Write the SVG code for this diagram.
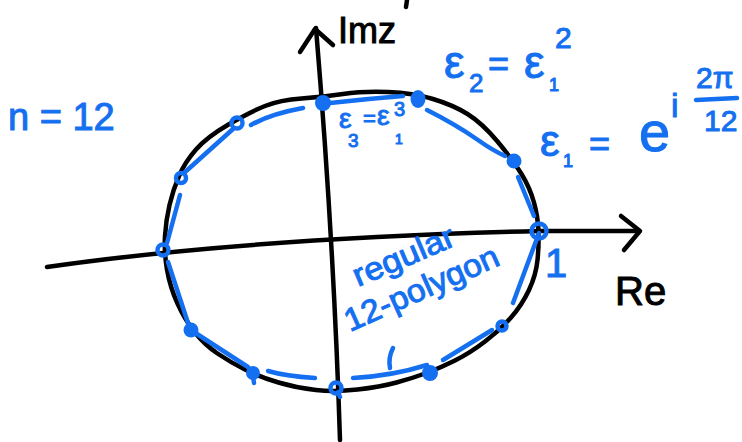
<svg xmlns="http://www.w3.org/2000/svg" width="742" height="442" viewBox="0 0 742 442">
<style>
.ink{fill:none;stroke:#000;stroke-width:4.5;stroke-linecap:round;stroke-linejoin:round}
.edge{fill:none;stroke:#1470f0;stroke-width:4.5;stroke-linecap:round;stroke-linejoin:round}
.dot{fill:#1470f0}
.ring{fill:none;stroke:#1470f0;stroke-width:4.5}
.bt{fill:#1470f0;font-family:"Liberation Sans",Arial,sans-serif;stroke:#1470f0;stroke-width:1}
.kt{fill:#000;font-family:"Liberation Sans",Arial,sans-serif;stroke:#000;stroke-width:1}
</style>
<rect width="742" height="442" fill="#fff"/>
<g id="axes">
  <path class="ink" d="M47,267 Q250,238 540,231 L639,231"/>
  <path class="ink" d="M621,216 L640,231 L624,250"/>
  <path class="ink" d="M316,28 C322,100 334,250 340,440"/>
  <path class="ink" d="M300,52 L315,29 L333,45"/>
  <path class="ink" d="M407,0 L406,7"/>
</g>
<g id="unit-circle">
  <path class="ink" d="M228.5,124.5 Q250,112 265,106 Q280,100 301.5,98.5 Q323,97 343,94 Q363,91 388,92 Q413,93 433,99 Q453,105 467.5,114 Q482,123 497.5,141.5 Q513,160 521.5,174 Q530,188 534,202.5 Q538,217 538.5,231 Q539,245 537.5,260 Q536,275 529,290 Q522,305 511,317.5 Q500,330 485,341.5 Q470,353 455,360.5 Q440,368 426.5,373 Q413,378 396.5,382.5 Q380,387 357.5,389.5 Q335,392 316,390 Q297,388 278.5,382.5 Q260,377 245,369.5 Q230,362 217.5,353.5 Q205,345 195,332.5 Q185,320 177.5,303.5 Q170,287 167,269.5 Q164,252 165,236 Q166,220 169.5,205 Q173,190 179,176 Q185,162 196,149.5 Q207,137 228.5,124.5 Z"/>
</g>
<g id="connectors">
  <path class="edge" d="M518,177 L534,216"/>
  <path class="edge" d="M427,110 Q455,124 478,140 Q492,150 505,156"/>
  <path class="edge" d="M330,103 Q365,99 403,96"/>
  <path class="edge" d="M251,125 Q270,114 303,108"/>
  <path class="edge" d="M233,129 L184,173"/>
  <path class="edge" d="M180,195 L167,243"/>
  <path class="edge" d="M168,262 L188,323"/>
  <path class="edge" d="M197,334 L248,367"/>
  <path class="edge" d="M268,371 Q285,376 315,378"/>
  <path class="edge" d="M353,378 Q392,376 427,365"/>
  <path class="edge" d="M443,360 L492,330"/>
  <path class="edge" d="M513,303 L539,233"/>
  <path class="edge" d="M393,348 Q388,358 390,368"/>
</g>
<g id="v1"><circle class="ring" cx="539" cy="231" r="7.5" stroke-width="4"/></g>
<g id="v2"><circle class="dot" cx="514" cy="161" r="7.5"/></g>
<g id="v3"><ellipse class="dot" cx="418" cy="99" rx="7.5" ry="9"/></g>
<g id="v4"><circle class="dot" cx="323" cy="103" r="8"/></g>
<g id="v5"><circle class="ring" cx="237" cy="123" r="5.5" stroke-width="4.5"/></g>
<g id="v6"><circle class="ring" cx="181" cy="178" r="5" stroke-width="5.5"/></g>
<g id="v7"><circle class="ring" cx="163" cy="250" r="5.5" stroke-width="5.5"/></g>
<g id="v8"><circle class="dot" cx="191" cy="330" r="7.5"/></g>
<g id="v9"><circle class="dot" cx="253" cy="373" r="7"/><path class="edge" d="M253,376 L254,383"/></g>
<g id="v10"><circle class="ring" cx="336" cy="388" r="5.5" stroke-width="5.5"/><path class="edge" d="M338,392 L340,397"/></g>
<g id="v11"><circle class="dot" cx="430" cy="373" r="8"/></g>
<g id="v12"><circle class="ring" cx="502" cy="326" r="4.5" stroke-width="5.5"/></g>
<g id="labels">
  <text class="kt" x="338" y="43" font-size="36">Imz</text>
  <text class="kt" x="615" y="305" font-size="40">Re</text>
  <text class="bt" x="8" y="130" font-size="38">n = 12</text>
  <text class="bt" x="545" y="277" font-size="40">1</text>
  <text class="bt" x="444" y="78" font-size="46">ε</text>
  <text class="bt" x="469" y="92" font-size="26">2</text>
  <text class="bt" x="488" y="76" font-size="36">=</text>
  <text class="bt" x="524" y="78" font-size="46">ε</text>
  <text class="bt" x="549" y="91" font-size="18">1</text>
  <text class="bt" x="555" y="48" font-size="30">2</text>
  <text class="bt" x="540" y="156" font-size="44">ε</text>
  <text class="bt" x="563" y="167" font-size="18">1</text>
  <text class="bt" x="589" y="156" font-size="36">=</text>
  <text class="bt" x="639" y="151" font-size="56">e</text>
  <text class="bt" x="671" y="117" font-size="34">i</text>
  <text class="bt" x="696" y="88" font-size="30">2π</text>
  <path class="edge" d="M696,100 L737,98"/>
  <text class="bt" x="704" y="131" font-size="30">12</text>
  <text class="bt" x="339" y="128" font-size="28">ε</text>
  <text class="bt" x="348" y="147" font-size="19">3</text>
  <text class="bt" x="363" y="126" font-size="22">=</text>
  <text class="bt" x="377" y="125" font-size="28">ε</text>
  <text class="bt" x="394" y="116" font-size="20">3</text>
  <text class="bt" x="395" y="144" font-size="14">1</text>
  <text class="bt" font-size="32" textLength="108" lengthAdjust="spacingAndGlyphs" transform="translate(358,287) rotate(-23)">regular</text>
  <text class="bt" font-size="32" textLength="166" lengthAdjust="spacingAndGlyphs" transform="translate(350,332) rotate(-24)">12-polygon</text>
</g>
</svg>
